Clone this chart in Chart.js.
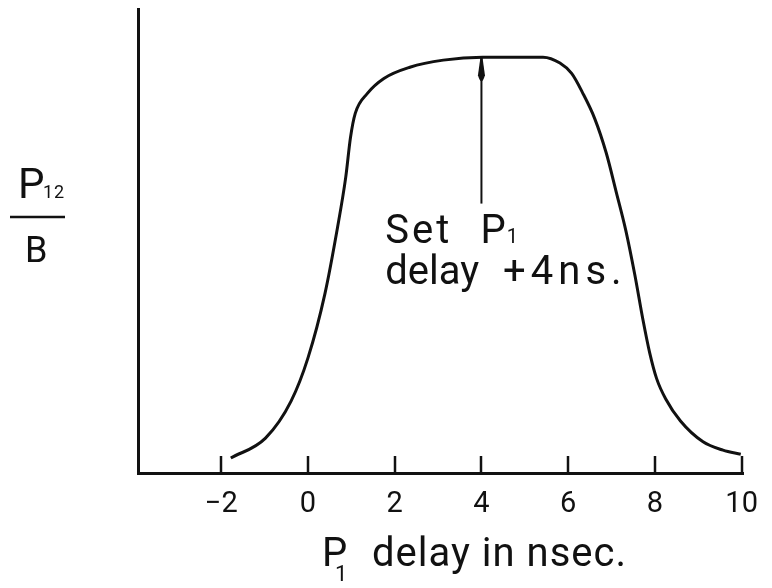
<!DOCTYPE html>
<html>
<head>
<meta charset="utf-8">
<script src="https://cdn.jsdelivr.net/npm/chart.js@4/dist/chart.umd.min.js"></script>
<style>
  html, body { margin: 0; padding: 0; background: #fff; }
</style>
</head>
<body>
<canvas id="chart" width="772" height="588"></canvas>
<script>
// P1 delay (ns) and normalised P12/B
const delayNs = [-1.78, -0.98, -0.39, 0.0, 0.39, 0.68, 0.87, 0.98, 1.09, 1.37, 1.75, 2.35, 3.12, 4.03,
                 5.42, 5.81, 6.08, 6.33, 6.61, 6.88, 7.11, 7.33, 7.54, 7.72, 7.88, 8.04, 8.25, 8.59,
                 9.11, 9.57, 9.98];
const ratio = [0.036, 0.084, 0.173, 0.277, 0.431, 0.590, 0.711, 0.807, 0.865, 0.913, 0.949, 0.976, 0.993, 1.0,
               1.0, 0.986, 0.961, 0.915, 0.853, 0.769, 0.675, 0.583, 0.475, 0.371, 0.289, 0.227, 0.178, 0.125,
               0.075, 0.055, 0.045];

const xTicks = [-2, 0, 2, 4, 6, 8, 10];
const xTickLabels = ['\u22122', '0', '2', '4', '6', '8', '10'];
const xRange = [-3.92, 10.05];
const yRange = [0, 1.116];

// "Set P1 delay +4ns." marker: arrow at x = 4 from 0.648 up to the plateau
const markerX = 4;
const markerFrom = 0.648;
const markerTo = 1.0;

const ink = '#111';
const face = 'Roboto, "Liberation Sans", sans-serif';

function text(ctx, str, x, y, size, spacing) {
    ctx.font = size + 'px ' + face;
    ctx.letterSpacing = (spacing || 0) + 'px';
    ctx.fillText(str, x, y);
    const w = ctx.measureText(str).width;
    ctx.letterSpacing = '0px';
    return x + w;
}

const paperBits = {
    id: 'paperBits',
    afterDraw(chart) {
        const ctx = chart.ctx;
        const xs = chart.scales.x;
        const ys = chart.scales.y;
        const area = chart.chartArea;
        ctx.save();
        ctx.strokeStyle = ink;
        ctx.fillStyle = ink;
        ctx.lineCap = 'butt';

        // tick marks point up into the plot
        ctx.lineWidth = 2.5;
        xTicks.forEach(v => {
            const px = Math.round(xs.getPixelForValue(v));
            ctx.beginPath();
            ctx.moveTo(px, area.bottom);
            ctx.lineTo(px, area.bottom - 17);
            ctx.stroke();
        });

        // arrow
        const ax = xs.getPixelForValue(markerX);
        const top = ys.getPixelForValue(markerTo);
        ctx.lineWidth = 2;
        ctx.beginPath();
        ctx.moveTo(ax, ys.getPixelForValue(markerFrom));
        ctx.lineTo(ax, top);
        ctx.stroke();
        ctx.beginPath();
        ctx.moveTo(ax - 1, top);
        ctx.lineTo(ax + 1, top);
        ctx.lineTo(ax + 3.5, top + 18);
        ctx.quadraticCurveTo(ax, top + 30, ax - 3.5, top + 18);
        ctx.closePath();
        ctx.fill();

        // annotation
        ctx.textBaseline = 'alphabetic';
        ctx.textAlign = 'left';
        const tx = xs.getPixelForValue(1.78);
        const b1 = ys.getPixelForValue(0.554);
        const b2 = ys.getPixelForValue(0.455);
        text(ctx, 'Set', tx, b1, 40, 3);
        const pEnd = text(ctx, 'P', ax - 1, b1, 40);
        text(ctx, '1', pEnd + 1, b1, 20);
        text(ctx, 'delay', tx, b2, 40);
        text(ctx, '+4ns.', xs.getPixelForValue(4.5), b2, 40, 5);

        // y label P12 / B
        text(ctx, 'P', 18, 198, 42);
        text(ctx, '12', 43, 198, 18, 1);
        ctx.lineWidth = 2.5;
        ctx.beginPath();
        ctx.moveTo(10, 217);
        ctx.lineTo(65, 217);
        ctx.stroke();
        text(ctx, 'B', 25, 262, 36);

        // x title
        text(ctx, 'P', 322, 566, 40);
        text(ctx, '1', 335, 581, 22);
        text(ctx, 'delay in nsec.', 372, 566, 40, 1);

        ctx.restore();
    }
};

new Chart(document.getElementById('chart'), {
    type: 'scatter',
    data: {
        datasets: [{
            data: delayNs.map((x, i) => ({ x: x, y: ratio[i] })),
            showLine: true,
            borderColor: ink,
            borderWidth: 3,
            pointRadius: 0,
            cubicInterpolationMode: 'monotone',
            fill: false
        }]
    },
    options: {
        responsive: false,
        animation: false,
        layout: { padding: { top: 9, right: 21, left: 0, bottom: 0 } },
        plugins: {
            legend: { display: false },
            tooltip: { enabled: false }
        },
        scales: {
            x: {
                type: 'linear',
                min: xRange[0],
                max: xRange[1],
                afterBuildTicks: s => { s.ticks = xTicks.map(v => ({ value: v })); },
                afterFit: s => { s.height = 115; },
                grid: { display: false, drawTicks: false },
                border: { display: true, color: ink, width: 3 },
                ticks: {
                    color: ink,
                    font: { family: face, size: 29 },
                    padding: 14,
                    maxRotation: 0,
                    autoSkip: false,
                    callback: v => xTickLabels[xTicks.indexOf(v)]
                }
            },
            y: {
                type: 'linear',
                min: yRange[0],
                max: yRange[1],
                afterFit: s => { s.width = 138; },
                grid: { display: false, drawTicks: false },
                border: { display: true, color: ink, width: 3 },
                ticks: { display: false }
            }
        }
    },
    plugins: [paperBits]
});
</script>
</body>
</html>
